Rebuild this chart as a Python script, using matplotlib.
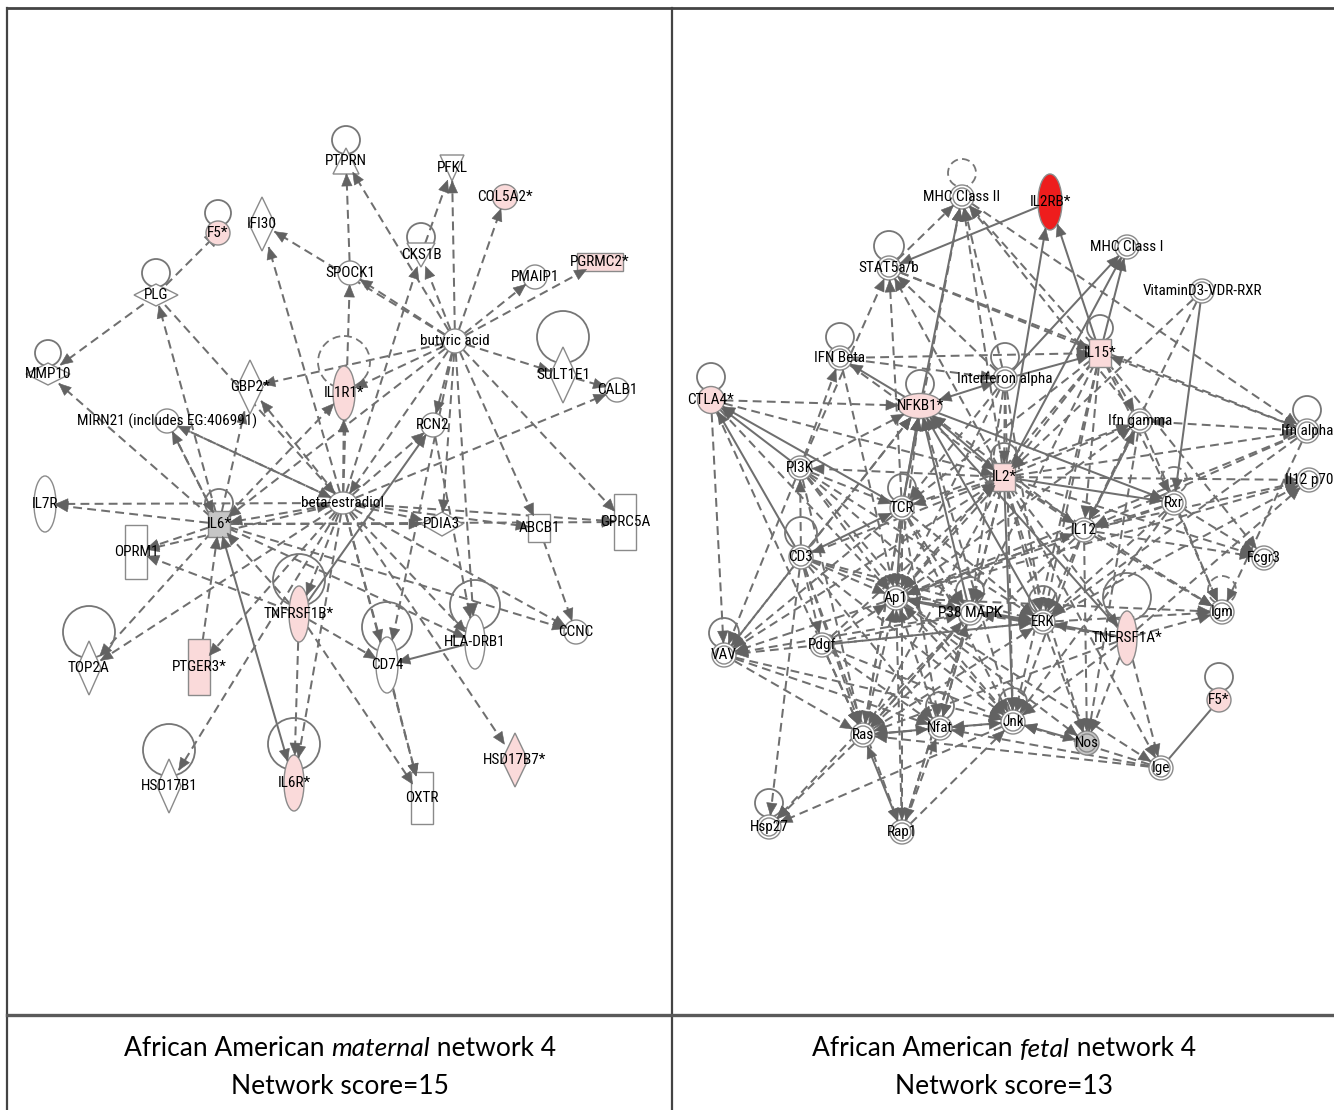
import numpy as np
import matplotlib
matplotlib.use('Agg')
import matplotlib.pyplot as plt
from matplotlib.patches import Ellipse, Rectangle, Polygon, Circle

# ---- network data (node names and interactions) ----
left_nodes = ['PTPRN', 'PFKL', 'COL5A2*', 'F5*', 'IFI30', 'CKS1B', 'SPOCK1', 'PMAIP1',
              'PGRMC2*', 'PLG', 'butyric acid', 'SULT1E1', 'CALB1', 'MMP10', 'GBP2*',
              'IL1R1*', 'MIRN21 (includes EG:406991)', 'RCN2', 'IL7R', 'IL6*',
              'beta-estradiol', 'PDIA3', 'ABCB1', 'GPRC5A', 'OPRM1', 'TNFRSF1B*', 'CD74',
              'HLA-DRB1', 'CCNC', 'TOP2A', 'PTGER3*', 'HSD17B1', 'IL6R*', 'OXTR', 'HSD17B7*']

right_nodes = ['MHC Class II', 'IL2RB*', 'MHC Class I', 'STAT5a/b', 'VitaminD3-VDR-RXR',
               'IFN Beta', 'IL15*', 'Interferon alpha', 'CTLA4*', 'NFKB1*', 'Ifn gamma',
               'Ifn alpha', 'PI3K', 'IL2*', 'Il12 p70', 'TCR', 'Rxr', 'IL12', 'CD3', 'Fcgr3',
               'Ap1', 'P38 MAPK', 'ERK', 'TNFRSF1A*', 'Igm', 'VAV', 'Pdgf', 'F5*', 'Ras',
               'Nfat', 'Jnk', 'Nos', 'Ige', 'Hsp27', 'Rap1']

BE, BA, MIR = 'beta-estradiol', 'butyric acid', 'MIRN21 (includes EG:406991)'
# (source, target, line, head)  line: d dashed / s solid ; head: > target, <> both, | inhibit, - none
left_edges = [
    (BE, 'IL7R', 'd', '>'), (BE, 'IL6*', 'd', '<>'), (BE, 'OPRM1', 'd', '>'), (BE, MIR, 'd', '>'),
    (BE, 'GBP2*', 'd', '>'), (BE, 'IL1R1*', 'd', '>'), (BE, 'SPOCK1', 'd', '>'), (BE, 'CKS1B', 'd', '>'),
    (BE, 'RCN2', 'd', '>'), (BE, 'PDIA3', 'd', '>'), (BE, 'ABCB1', 'd', '>'), (BE, 'GPRC5A', 'd', '>'),
    (BE, 'CALB1', 'd', '>'), (BE, 'TNFRSF1B*', 'd', '>'), (BE, 'CD74', 'd', '>'), (BE, 'HLA-DRB1', 'd', '>'),
    (BE, 'CCNC', 'd', '>'), (BE, 'TOP2A', 'd', '>'), (BE, 'PTGER3*', 'd', '>'), (BE, 'HSD17B1', 'd', '>'),
    (BE, 'IL6R*', 'd', '>'), (BE, 'OXTR', 'd', '>'), (BE, 'HSD17B7*', 'd', '>'), (BE, 'IFI30', 'd', '>'),
    ('PLG', BE, 'd', '>'), (MIR, BE, 'd', '>'),
    (BA, 'PTPRN', 'd', '>'), (BA, 'PFKL', 'd', '>'), (BA, 'COL5A2*', 'd', '>'), (BA, 'PMAIP1', 'd', '>'),
    (BA, 'PGRMC2*', 'd', '>'), (BA, 'SPOCK1', 'd', '>'), (BA, 'CKS1B', 'd', '>'), (BA, 'IFI30', 'd', '>'),
    (BA, 'SULT1E1', 'd', '>'), (BA, 'GBP2*', 'd', '>'), (BA, 'RCN2', 'd', '>'), (BA, 'ABCB1', 'd', '>'),
    (BA, 'HLA-DRB1', 'd', '>'), (BA, BE, 'd', '>'), (BA, 'IL1R1*', 'd', '>'), (BA, 'IL6*', 'd', '>'),
    (BA, 'PDIA3', 'd', '>'), (BA, 'GPRC5A', 'd', '>'), (BA, 'CD74', 'd', '>'),
    ('IL6*', 'IL7R', 'd', '>'), ('IL6*', 'OPRM1', 'd', '>'), ('IL6*', 'TOP2A', 'd', '>'),
    ('IL6*', 'GBP2*', 'd', '>'), ('IL6*', 'IL1R1*', 'd', '>'), ('IL6*', MIR, 'd', '>'),
    ('IL6*', 'PDIA3', 'd', '>'), ('IL6*', 'GPRC5A', 'd', '>'), ('IL6*', 'HLA-DRB1', 'd', '>'),
    ('IL6*', 'CCNC', 'd', '>'), ('PTGER3*', 'IL6*', 'd', '>'), ('TNFRSF1B*', 'IL6*', 'd', '>'),
    ('IL6*', 'IL6R*', 's', '<>'), ('IL6*', 'PLG', 'd', '>'), ('IL6*', 'MMP10', 'd', '>'),
    ('PLG', 'MMP10', 'd', '>'), ('PLG', 'F5*', 'd', '|'), (MIR, 'IL6*', 'd', '>'),
    ('SPOCK1', 'PTPRN', 'd', '>'), ('CKS1B', 'PFKL', 'd', '>'), ('TNFRSF1B*', 'RCN2', 's', '>'),
    ('RCN2', 'HLA-DRB1', 'd', '>'), ('SULT1E1', 'CALB1', 'd', '>'), ('HLA-DRB1', 'CD74', 's', '>'),
    ('TNFRSF1B*', 'OPRM1', 'd', '>'), ('TNFRSF1B*', 'CD74', 'd', '>'), ('TNFRSF1B*', 'OXTR', 'd', '>'),
    ('CD74', 'OXTR', 'd', '>'), ('ABCB1', 'CCNC', 'd', '>'), ('TNFRSF1B*', 'IL6R*', 'd', '>'),
]

IL2, NF, IA = 'IL2*', 'NFKB1*', 'Interferon alpha'
right_edges = [
    (IL2, 'IL2RB*', 's', '>'), ('IL15*', 'IL2RB*', 's', '>'), ('IL2RB*', 'STAT5a/b', 's', '>'),
    (IL2, 'MHC Class I', 's', '>'), (IA, 'MHC Class I', 's', '>'), ('IL15*', 'MHC Class I', 's', '>'),
    (IL2, 'MHC Class II', 'd', '>'), (IL2, 'STAT5a/b', 'd', '>'), ('IFN Beta', IL2, 'd', '>'),
    ('IL15*', IL2, 'd', '>'), (IA, IL2, 'd', '>'), ('CTLA4*', IL2, 'd', '>'), (IL2, NF, 's', '>'),
    (IL2, 'PI3K', 'd', '>'), (IL2, 'TCR', 'd', '>'), (IL2, 'CD3', 'd', '>'), (IL2, 'Ap1', 'd', '>'),
    (IL2, 'P38 MAPK', 'd', '>'), (IL2, 'ERK', 'd', '>'), (IL2, 'Jnk', 's', '>'), (IL2, 'Nfat', 'd', '>'),
    (IL2, 'Ras', 'd', '>'), (IL2, 'IL12', 'd', '>'), (IL2, 'Rxr', 's', '>'), (IL2, 'Ifn gamma', 'd', '>'),
    (IL2, 'Ifn alpha', 'd', '>'), (IL2, 'Il12 p70', 'd', '>'), (IL2, 'Fcgr3', 'd', '>'),
    (IL2, 'Igm', 'd', '>'), (IL2, 'TNFRSF1A*', 'd', '>'), (IL2, 'Nos', 'd', '>'), (IL2, 'Ige', 'd', '>'),
    ('VAV', IL2, 'd', '>'), ('Pdgf', IL2, 'd', '>'), ('VitaminD3-VDR-RXR', IL2, 'd', '>'),
    ('PI3K', NF, 'd', '>'), ('TCR', NF, 's', '>'), ('CD3', NF, 'd', '>'), ('Ap1', NF, 'd', '>'),
    ('P38 MAPK', NF, 's', '>'), ('ERK', NF, 's', '>'), ('Jnk', NF, 'd', '>'), ('TNFRSF1A*', NF, 's', '>'),
    (NF, 'IFN Beta', 's', '>'), (IA, NF, 's', '<>'), (NF, 'MHC Class II', 's', '>'), ('Ras', NF, 'd', '>'),
    (NF, 'Rxr', 's', '>'), ('CTLA4*', NF, 'd', '>'), ('VAV', NF, 'd', '>'), ('IL12', NF, 'd', '>'),
    ('STAT5a/b', 'MHC Class II', 'd', '>'), ('PI3K', 'STAT5a/b', 'd', '>'), ('STAT5a/b', 'IL15*', 'd', '>'),
    ('STAT5a/b', 'Ifn alpha', 'd', '>'), (IA, 'STAT5a/b', 'd', '>'), ('TCR', 'STAT5a/b', 'd', '>'),
    ('IL15*', 'MHC Class II', 'd', '>'), (IA, 'MHC Class II', 'd', '>'), ('TCR', 'MHC Class II', 'd', '>'),
    ('MHC Class II', 'Ifn alpha', 'd', '>'), ('Ifn gamma', 'MHC Class II', 'd', '>'),
    ('IFN Beta', 'IL15*', 'd', '>'), (IA, 'IL15*', 's', '>'), ('IL15*', 'Ifn gamma', 'd', '>'),
    ('Ifn alpha', 'IL15*', 'd', '<>'), ('IL15*', 'IL12', 'd', '>'), ('IL15*', 'ERK', 'd', '>'),
    ('IL15*', 'Ap1', 'd', '>'), ('IL15*', 'TCR', 'd', '>'), ('IL15*', 'P38 MAPK', 'd', '>'),
    ('IL15*', 'Jnk', 'd', '>'), ('IFN Beta', IA, 'd', '>'), ('PI3K', 'IFN Beta', 'd', '>'),
    ('IFN Beta', 'Ap1', 'd', '>'), (IA, 'Ap1', 'd', '>'), (IA, 'TCR', 'd', '>'), (IA, 'P38 MAPK', 'd', '>'),
    (IA, 'ERK', 'd', '>'), (IA, 'Jnk', 'd', '>'), ('TCR', 'Ifn gamma', 'd', '>'), ('Ap1', 'Ifn gamma', 'd', '>'),
    ('Ifn gamma', 'IL12', 'd', '>'), ('Ifn alpha', 'Ifn gamma', 'd', '>'), ('Ifn alpha', 'IL12', 'd', '>'),
    ('Ifn alpha', 'ERK', 'd', '>'), ('Ifn alpha', 'Igm', 'd', '>'), ('Ifn alpha', 'Ap1', 'd', '>'),
    ('VitaminD3-VDR-RXR', 'Rxr', 's', '>'), ('VitaminD3-VDR-RXR', 'IL12', 'd', '>'),
    ('PI3K', 'CTLA4*', 's', '>'), ('CD3', 'CTLA4*', 's', '>'), ('TCR', 'CTLA4*', 's', '>'),
    ('CTLA4*', 'VAV', 'd', '>'), ('CTLA4*', 'Ras', 'd', '>'), ('CTLA4*', 'Ap1', 'd', '>'),
    ('PI3K', 'Ras', 'd', '>'), ('PI3K', 'Jnk', 'd', '>'), ('PI3K', 'VAV', 'd', '>'), ('PI3K', 'Ap1', 'd', '>'),
    ('PI3K', 'ERK', 'd', '>'), ('PI3K', 'P38 MAPK', 'd', '>'), ('PI3K', 'TCR', 'd', '>'),
    ('CD3', 'PI3K', 'd', '>'), ('CD3', 'TCR', 's', '>'), ('CD3', 'Ras', 'd', '>'), ('CD3', 'Ap1', 'd', '>'),
    ('CD3', 'P38 MAPK', 'd', '>'), ('CD3', 'VAV', 'd', '>'), ('CD3', 'Hsp27', 'd', '>'), ('CD3', 'Rap1', 'd', '>'),
    ('CD3', 'Jnk', 'd', '>'), ('CD3', 'Nfat', 'd', '>'), ('CD3', 'ERK', 'd', '>'), ('CD3', 'Pdgf', 'd', '>'),
    ('TCR', 'Ap1', 's', '>'), ('TCR', 'Ras', 'd', '>'), ('TCR', 'P38 MAPK', 'd', '>'), ('TCR', 'ERK', 'd', '>'),
    ('TCR', 'Jnk', 'd', '>'), ('TCR', 'Nfat', 'd', '>'), ('TCR', 'VAV', 'd', '>'), ('TCR', 'Rap1', 'd', '>'),
    ('Ap1', 'VAV', 'd', '>'), ('Ap1', 'Igm', 'd', '>'), ('Ap1', 'Il12 p70', 'd', '>'), ('Ap1', 'IL12', 'd', '>'),
    ('Ap1', 'Nos', 'd', '>'), ('Ap1', 'Ige', 'd', '>'), ('P38 MAPK', 'Ap1', 's', '>'),
    ('P38 MAPK', 'ERK', 's', '>'), ('P38 MAPK', 'Hsp27', 'd', '>'), ('P38 MAPK', 'Nfat', 'd', '>'),
    ('P38 MAPK', 'Ras', 'd', '>'), ('P38 MAPK', 'VAV', 'd', '>'), ('P38 MAPK', 'Rap1', 'd', '>'),
    ('TNFRSF1A*', 'ERK', 's', '>'), ('ERK', 'Ap1', 's', '>'), ('Ras', 'ERK', 'd', '>'), ('Pdgf', 'ERK', 'd', '>'),
    ('IL12', 'ERK', 'd', '>'), ('Rxr', 'ERK', 'd', '>'), ('ERK', 'Igm', 'd', '>'), ('ERK', 'Il12 p70', 'd', '>'),
    ('ERK', 'Nos', 'd', '>'), ('ERK', 'VAV', 'd', '>'),
    ('TNFRSF1A*', 'Jnk', 'd', '>'), ('TNFRSF1A*', 'Nos', 'd', '>'), ('TNFRSF1A*', 'Ige', 'd', '>'),
    ('TNFRSF1A*', 'Igm', 'd', '>'), ('TNFRSF1A*', 'Ap1', 'd', '>'), ('TNFRSF1A*', 'P38 MAPK', 'd', '>'),
    ('TNFRSF1A*', 'Ras', 'd', '>'), ('TNFRSF1A*', 'Il12 p70', 'd', '>'),
    ('Ras', 'Nfat', 's', '<>'), ('Ras', 'Rap1', 's', '<>'), ('Ras', 'Hsp27', 'd', '>'), ('VAV', 'Ras', 'd', '>'),
    ('Pdgf', 'Ras', 'd', '>'), ('Ras', 'Jnk', 'd', '>'), ('Ras', 'P38 MAPK', 'd', '>'), ('Ras', 'Ap1', 'd', '>'),
    ('Ige', 'Ras', 'd', '>'), ('Jnk', 'Nfat', 's', '>'), ('Jnk', 'Nos', 's', '<>'), ('Ige', 'Jnk', 'd', '>'),
    ('Jnk', 'Hsp27', 'd', '>'), ('Jnk', 'Ap1', 'd', '>'), ('VAV', 'Jnk', 'd', '>'), ('Pdgf', 'Jnk', 'd', '>'),
    ('Rap1', 'Jnk', 'd', '>'), ('IL12', 'Jnk', 'd', '>'), ('Ige', 'Nfat', 'd', '>'), ('Rap1', 'Nfat', 'd', '>'),
    ('Nfat', 'Ap1', 'd', '>'), ('VAV', 'Nfat', 'd', '>'), ('Pdgf', 'Nfat', 'd', '>'), ('IL12', 'Nos', 'd', '>'),
    ('Ifn gamma', 'Nos', 'd', '>'), ('Ige', 'F5*', 's', '-'), ('Pdgf', 'Ap1', 'd', '>'),
    ('Pdgf', 'P38 MAPK', 'd', '>'), ('Rap1', 'P38 MAPK', 'd', '>'), ('Rap1', 'Ap1', 'd', '>'),
    ('IL12', 'Ifn gamma', 'd', '>'), ('IL12', 'Ap1', 'd', '>'), ('IL12', 'Igm', 'd', '>'),
    ('IL12', 'Il12 p70', 'd', '>'), ('IL12', 'Fcgr3', 'd', '>'), ('IL12', 'Ras', 'd', '>'),
    ('Rxr', 'IL12', 'd', '>'), ('Rxr', 'Fcgr3', 'd', '>'), ('Rxr', 'Ap1', 'd', '>'), ('Rxr', 'Jnk', 'd', '>'),
    ('IL15*', 'Rxr', 'd', '>'), ('IL15*', 'Fcgr3', 'd', '>'), ('Rxr', 'Igm', 'd', '>'), ('Ifn gamma', 'Igm', 'd', '>'),
]

caption_left = ('African American ', 'maternal', ' network 4')
caption_right = ('African American ', 'fetal', ' network 4')
score_left = 'Network score=15'
score_right = 'Network score=13'

# ---- layout: x, y, shape, width, height, fill, loop (dy, radius, dashed) ----
PINK = '#fadada'
RED = '#ee1d1d'
GREY = '#c6c6c6'
W = 'white'
left_layout = {
    'PTPRN': (346, 161, 'tri_up', 26, 26, W, (-21, 14, False)),
    'PFKL': (452, 168, 'tri_down', 24, 26, W, None),
    'COL5A2*': (505, 197, 'circle', 25, 25, PINK, None),
    'F5*': (218, 233, 'circle', 24, 24, PINK, (-20, 13, False)),
    'IFI30': (262, 224, 'diamond', 26, 54, W, None),
    'CKS1B': (421, 255, 'tri_down', 28, 24, W, (-18, 14, False)),
    'SPOCK1': (350, 273, 'circle', 24, 24, W, None),
    'PMAIP1': (535, 277, 'circle', 24, 24, W, None),
    'PGRMC2*': (600, 262, 'rect', 46, 18, PINK, None),
    'PLG': (156, 295, 'diamond', 44, 22, W, (-22, 14, False)),
    'butyric acid': (455, 341, 'circle', 24, 24, W, None),
    'SULT1E1': (563, 375, 'diamond', 26, 56, W, (-38, 26, False)),
    'CALB1': (617, 390, 'circle', 24, 24, W, None),
    'MMP10': (48, 374, 'diamond', 44, 22, W, (-21, 13, False)),
    'GBP2*': (250, 387, 'diamond', 26, 54, W, None),
    'IL1R1*': (344, 393, 'ellipse', 22, 54, PINK, (-31, 26, True)),
    'MIRN21 (includes EG:406991)': (167, 421, 'circle', 24, 24, W, None),
    'RCN2': (433, 425, 'circle', 24, 24, W, None),
    'IL7R': (45, 504, 'ellipse', 22, 56, W, None),
    'IL6*': (219, 524, 'rect', 22, 26, GREY, (-21, 14, False)),
    'beta-estradiol': (343, 503, 'ellipse', 28, 22, W, None),
    'PDIA3': (442, 524, 'diamond', 42, 24, W, None),
    'ABCB1': (539, 528, 'rect', 22, 28, W, None),
    'GPRC5A': (625, 522, 'rect', 22, 56, W, None),
    'OPRM1': (136, 552, 'rect', 22, 54, W, None),
    'TNFRSF1B*': (299, 614, 'ellipse', 20, 56, PINK, (-34, 26, False)),
    'CD74': (387, 665, 'ellipse', 22, 56, W, (-38, 25, False)),
    'HLA-DRB1': (475, 642, 'ellipse', 20, 54, W, (-37, 25, False)),
    'CCNC': (576, 632, 'circle', 24, 24, W, None),
    'TOP2A': (89, 668, 'diamond', 24, 54, W, (-36, 26, False)),
    'PTGER3*': (199, 667, 'rect', 22, 56, PINK, None),
    'HSD17B1': (169, 786, 'diamond', 24, 54, W, (-36, 26, False)),
    'IL6R*': (294, 783, 'ellipse', 20, 56, PINK, (-39, 26, False)),
    'OXTR': (422, 798, 'rect', 22, 52, W, None),
    'HSD17B7*': (515, 760, 'diamond', 26, 54, PINK, None),
}
right_layout = {
    'MHC Class II': (962, 197, 'dcircle', 24, 24, W, (-24, 14, True)),
    'IL2RB*': (1050, 202, 'ellipse', 24, 56, RED, None),
    'MHC Class I': (1127, 247, 'dcircle', 24, 24, W, None),
    'STAT5a/b': (889, 268, 'dcircle', 24, 24, W, (-22, 15, False)),
    'VitaminD3-VDR-RXR': (1202, 291, 'dcircle', 24, 24, W, None),
    'IFN Beta': (840, 358, 'dcircle', 24, 24, W, (-21, 14, False)),
    'IL15*': (1100, 353, 'rect', 22, 28, PINK, (-25, 13, False)),
    'Interferon alpha': (1005, 379, 'dcircle', 24, 24, W, (-22, 14, False)),
    'CTLA4*': (711, 400, 'circle', 27, 27, PINK, (-23, 14, False)),
    'NFKB1*': (920, 406, 'ellipse', 44, 25, PINK, (-22, 14, False)),
    'Ifn gamma': (1140, 421, 'dcircle', 24, 24, W, None),
    'Ifn alpha': (1307, 431, 'dcircle', 24, 24, W, (-21, 14, False)),
    'PI3K': (800, 468, 'dcircle', 24, 24, W, None),
    'IL2*': (1004, 477, 'rect', 22, 28, PINK, (-21, 13, False)),
    'Il12 p70': (1309, 480, 'dcircle', 24, 24, W, None),
    'TCR': (902, 508, 'dcircle', 24, 24, W, (-20, 14, False)),
    'Rxr': (1174, 503, 'dcircle', 24, 24, W, (-23, 13, True)),
    'IL12': (1084, 530, 'dcircle', 24, 24, W, None),
    'CD3': (801, 557, 'dcircle', 24, 24, W, (-24, 16, False)),
    'Fcgr3': (1264, 558, 'dcircle', 24, 24, W, None),
    'Ap1': (896, 598, 'dcircle', 24, 24, W, None),
    'P38 MAPK': (970, 613, 'dcircle', 24, 24, W, (-22, 14, False)),
    'ERK': (1043, 622, 'dcircle', 24, 24, W, (-22, 14, False)),
    'TNFRSF1A*': (1127, 638, 'ellipse', 20, 54, PINK, (-41, 24, False)),
    'Igm': (1222, 612, 'dcircle', 24, 24, W, (-22, 14, True)),
    'VAV': (724, 655, 'dcircle', 24, 24, W, (-22, 15, False)),
    'Pdgf': (822, 645, 'dcircle', 24, 24, W, None),
    'F5*': (1219, 700, 'circle', 24, 24, PINK, (-23, 14, False)),
    'Ras': (863, 735, 'dcircle', 24, 24, W, None),
    'Nfat': (940, 728, 'dcircle', 24, 24, W, (-22, 14, False)),
    'Jnk': (1013, 722, 'dcircle', 24, 24, W, (-20, 14, False)),
    'Nos': (1087, 743, 'dcircle', 24, 24, GREY, None),
    'Ige': (1161, 768, 'dcircle', 24, 24, W, None),
    'Hsp27': (769, 827, 'dcircle', 24, 24, W, (-24, 14, False)),
    'Rap1': (902, 832, 'dcircle', 24, 24, W, None),
}

EDGE = '#6f6f6f'
HEAD = '#626262'
NODE_EC = '#8a8a8a'
LABEL_FONT = ['Liberation Sans Narrow', 'DejaVu Sans Condensed', 'Noto Sans Condensed',
              'Roboto Condensed', 'Liberation Sans']
DASH = (0, (4.4, 2.6))


def boundary(node, ux, uy):
    a, b = node[3] / 2.0, node[4] / 2.0
    t = 1.0 / np.hypot(ux / a, uy / b)
    return node[0] + ux * t, node[1] + uy * t


def arrowhead(ax, tx, ty, ux, uy, length=12, half=5.2):
    bx, by = tx - ux * length, ty - uy * length
    px, py = -uy, ux
    ax.add_patch(Polygon([(tx, ty), (bx + px * half, by + py * half), (bx - px * half, by - py * half)],
                         closed=True, fc=HEAD, ec=HEAD, lw=0.4, zorder=3))


def draw_edge(ax, n1, n2, line, head):
    dx, dy = n2[0] - n1[0], n2[1] - n1[1]
    d = np.hypot(dx, dy)
    ux, uy = dx / d, dy / d
    sx, sy = boundary(n1, ux, uy)
    ex, ey = boundary(n2, -ux, -uy)
    ls = DASH if line == 'd' else '-'
    ax.plot([sx, ex], [sy, ey], color=EDGE, lw=1.45, ls=ls, zorder=1,
            solid_capstyle='butt', dash_capstyle='butt')
    if head in ('>', '<>'):
        arrowhead(ax, ex, ey, ux, uy)
    if head == '<>':
        arrowhead(ax, sx, sy, -ux, -uy)
    if head == '|':
        ax.plot([ex - uy * 6, ex + uy * 6], [ey + ux * 6, ey - ux * 6], color=EDGE, lw=1.4, zorder=1)


def draw_node(ax, name, node):
    x, y, shape, w, h, fill, loop = node
    if loop is not None:
        ldy, r, dashed = loop
        ax.add_patch(Circle((x, y + ldy), r, fill=False, ec='#767676', lw=1.3,
                            ls=DASH if dashed else '-', zorder=1.5))
    kw = dict(fc=fill, ec=NODE_EC, lw=1.0, zorder=2)
    if shape in ('circle', 'ellipse', 'dcircle'):
        ax.add_patch(Ellipse((x, y), w, h, **kw))
        if shape == 'dcircle':
            ax.add_patch(Ellipse((x, y), w - 6, h - 6, fc='none', ec=NODE_EC, lw=1.0, zorder=2))
    elif shape == 'rect':
        ax.add_patch(Rectangle((x - w / 2, y - h / 2), w, h, **kw))
    elif shape == 'diamond':
        ax.add_patch(Polygon([(x, y - h / 2), (x + w / 2, y), (x, y + h / 2), (x - w / 2, y)], **kw))
    elif shape == 'tri_up':
        ax.add_patch(Polygon([(x, y - h / 2), (x + w / 2, y + h / 2), (x - w / 2, y + h / 2)], **kw))
    elif shape == 'tri_down':
        ax.add_patch(Polygon([(x - w / 2, y - h / 2), (x + w / 2, y - h / 2), (x, y + h / 2)], **kw))
    ax.text(x, y, name, ha='center', va='center', fontsize=11, family=LABEL_FONT,
            color='#000000', zorder=4)


def draw_network(ax, names, layout, edges):
    for src, dst, line, head in edges:
        draw_edge(ax, layout[src], layout[dst], line, head)
    for name in names:
        draw_node(ax, name, layout[name])


CAP_FONT = ['Lato', 'DejaVu Sans']


def caption(ax, fig, parts, xc, y, size):
    r = fig.canvas.get_renderer()
    texts = []
    for i, p in enumerate(parts):
        t = ax.text(0, y, p, fontsize=size, family=CAP_FONT,
                    style='italic' if i == 1 else 'normal', va='center', ha='left')
        texts.append(t)
    widths = [t.get_window_extent(r).width for t in texts]
    x = xc - sum(widths) / 2
    for t, wd in zip(texts, widths):
        t.set_x(x)
        x += wd


fig = plt.figure(figsize=(13.34, 11.10), dpi=100)
ax = fig.add_axes([0, 0, 1, 1])
ax.set_xlim(0, 1334)
ax.set_ylim(1110, 0)
ax.axis('off')

# table frame
ax.plot([7, 1334], [8, 8], color='#444444', lw=2.0)
ax.plot([7, 7], [8, 1110], color='#444444', lw=1.6)
ax.plot([672, 672], [8, 1110], color='#444444', lw=1.6)
ax.plot([7, 1334], [1015, 1015], color='#5a5a5a', lw=2.4)

draw_network(ax, left_nodes, left_layout, left_edges)
draw_network(ax, right_nodes, right_layout, right_edges)

caption(ax, fig, caption_left, 340, 1049, 19)
caption(ax, fig, caption_right, 1004, 1049, 19)
ax.text(340, 1086, score_left, fontsize=19, family=CAP_FONT, ha='center', va='center')
ax.text(1004, 1086, score_right, fontsize=19, family=CAP_FONT, ha='center', va='center')

fig.savefig('out.png', dpi=100)
